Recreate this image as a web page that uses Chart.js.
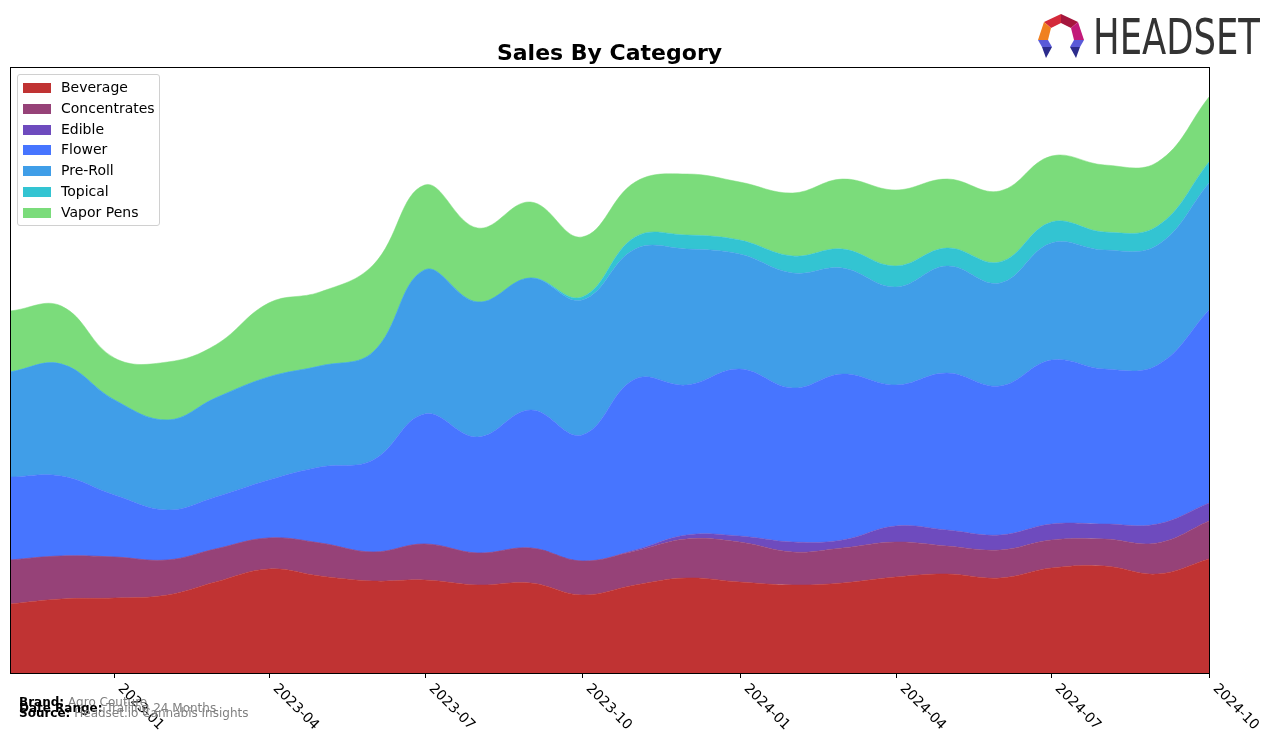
<!DOCTYPE html>
<html>
<head>
<meta charset="utf-8">
<script src="https://cdn.jsdelivr.net/npm/chart.js@4.4.1/dist/chart.umd.min.js"></script>
<style>
  body { margin: 0; background: #fff; font-family: "DejaVu Sans", sans-serif; }
  #wrap { position: relative; width: 1276px; height: 743px; overflow: hidden; }
  #chart { position: absolute; left: 0; top: 0; }
  .title { position: absolute; left: 10px; width: 1199px; top: 40px; text-align: center; font-weight: bold; font-size: 22px; line-height: 26px; color: #000; }
  .legend { position: absolute; left: 17px; top: 74px; width: 141px; height: 150px; border: 1px solid #d0d0d0; border-radius: 3px; background: rgba(255,255,255,0.85); }
  .legend .row { position: absolute; left: 0; height: 20px; font-size: 14px; color: #000; }
  .legend .sw { position: absolute; left: 5px; top: 5px; width: 28px; height: 10px; }
  .legend .lb { position: absolute; left: 43px; top: 1px; white-space: nowrap; }
  .foot { position: absolute; left: 19px; font-size: 12px; white-space: nowrap; color: #808080; }
  .foot b { color: #000; }
</style>
</head>
<body>
<div id="wrap">
  <canvas id="chart" width="1276" height="743"></canvas>
  <div class="title">Sales By Category</div>
  <div class="legend" id="legend"></div>
  <div class="foot" style="top:695px"><b>Brand:</b> Agro Couture</div>
  <div class="foot" style="top:701px"><b>Date Range:</b> Trailing 24 Months</div>
  <div class="foot" style="top:706px"><b>Source:</b> Headset.io Cannabis Insights</div>
  <svg style="position:absolute;left:1038px;top:14px" width="230" height="46" viewBox="0 0 230 46">
    <polygon points="6,8 23,0 23,9 13,14" fill="#d42a3a"/>
    <polygon points="23,0 40,8 33,14 23,9" fill="#a5163d"/>
    <polygon points="40,8 46,26 36,26 33,14" fill="#c21a7a"/>
    <polygon points="6,8 13,14 10,26 0,26" fill="#f08020"/>
    <polygon points="0,26 10,26 14,33 4,33" fill="#5a5ad8"/>
    <polygon points="4,33 14,33 8,44" fill="#2c2c8c"/>
    <polygon points="46,26 36,26 32,33 42,33" fill="#5a5ad8"/>
    <polygon points="42,33 32,33 38,44" fill="#2c2c8c"/>
    <text x="55" y="40" font-family="DejaVu Sans" font-size="49" fill="#333" textLength="167" lengthAdjust="spacingAndGlyphs">HEADSET</text>
  </svg>
</div>
<script>
// ---- data (heights, arbitrary units) ----
const months = ['2022-11','2022-12','2023-01','2023-02','2023-03','2023-04','2023-05','2023-06',
                '2023-07','2023-08','2023-09','2023-10','2023-11','2023-12','2024-01','2024-02',
                '2024-03','2024-04','2024-05','2024-06','2024-07','2024-08','2024-09','2024-10'];
const tickMonths = ['2023-01','2023-04','2023-07','2023-10','2024-01','2024-04','2024-07','2024-10'];

const beverage     = [69, 74, 75, 78, 91, 104, 97, 92, 93, 88, 90, 78, 88, 95, 91, 88, 90, 96, 99, 95, 105, 107, 99, 114];
const concentrates = [44, 43, 41, 35, 33, 31, 33, 29, 36, 32, 35, 34, 34, 39, 40, 33, 35, 35, 28, 28, 28, 27, 31, 38];
const edible       = [0, 0, 0, 0, 0, 0, 0, 0, 0, 0, 0, 0, 1, 4, 6, 10, 8, 16, 16, 15, 16, 15, 19, 18];
const flower       = [83, 80, 62, 50, 52, 58, 76, 92, 130, 116, 138, 126, 171, 150, 167, 154, 166, 141, 157, 149, 164, 155, 159, 193];
const preRoll      = [105, 112, 95, 90, 99, 103, 101, 108, 144, 135, 132, 135, 130, 136, 115, 115, 106, 98, 107, 103, 117, 119, 120, 127];
const topical      = [0, 0, 0, 0, 0, 0, 0, 0, 0, 0, 0, 3, 12, 14, 14, 17, 19, 21, 18, 21, 21, 18, 19, 21];
const vaporPens    = [61, 58, 42, 58, 53, 74, 74, 87, 85, 74, 76, 60, 55, 61, 58, 63, 70, 76, 69, 71, 66, 67, 64, 65];

const seriesNames  = ['Beverage', 'Concentrates', 'Edible', 'Flower', 'Pre-Roll', 'Topical', 'Vapor Pens'];
const seriesValues = [beverage, concentrates, edible, flower, preRoll, topical, vaporPens];
const seriesColors = ['#c03333', '#964278', '#6e4bbe', '#4775ff', '#409ee8', '#33c4d2', '#7bdc7b'];

// dias desde a época, pra manter o espaçamento real entre meses
function dayOf(m) {
    const [y, mo] = m.split('-').map(Number);
    return Date.UTC(y, mo - 1, 1) / 864e5;
}
const xs = months.map(dayOf);

const datasets = seriesNames.map((name, i) => ({
    label: name,
    data: seriesValues[i].map((v, j) => ({ x: xs[j], y: v })),
    backgroundColor: seriesColors[i],
    borderColor: seriesColors[i],
    borderWidth: 0.5,
    fill: i === 0 ? 'origin' : '-1',
    pointRadius: 0,
    tension: 0.4
}));

// ---- legend (html) ----
const legend = document.getElementById('legend');
seriesNames.forEach((name, i) => {
    const row = document.createElement('div');
    row.className = 'row';
    row.style.top = (3 + i * 20.8) + 'px';
    row.innerHTML = `<span class="sw" style="background:${seriesColors[i]}"></span><span class="lb">${name}</span>`;
    legend.appendChild(row);
});

// ---- frame + rotated ticks ----
const framePlugin = {
    id: 'frame',
    afterDraw(chart) {
        const { ctx, chartArea: a, scales } = chart;
        ctx.save();
        ctx.strokeStyle = '#000';
        ctx.lineWidth = 1;
        ctx.strokeRect(a.left + 0.5, a.top + 0.5, a.right - a.left, a.bottom - a.top);
        ctx.font = '14px "DejaVu Sans"';
        ctx.fillStyle = '#000';
        tickMonths.forEach(m => {
            const px = Math.round(scales.x.getPixelForValue(dayOf(m))) + 0.5;
            ctx.beginPath();
            ctx.moveTo(px, a.bottom);
            ctx.lineTo(px, a.bottom + 5);
            ctx.stroke();
            ctx.save();
            ctx.translate(px + 3, a.bottom + 16);
            ctx.rotate(Math.PI / 4);
            ctx.textAlign = 'left';
            ctx.textBaseline = 'alphabetic';
            ctx.fillText(m, 0, 0);
            ctx.restore();
        });
        ctx.restore();
    }
};

new Chart(document.getElementById('chart'), {
    type: 'line',
    data: { datasets },
    options: {
        responsive: false,
        animation: false,
        devicePixelRatio: 1,
        layout: { padding: { left: 10, top: 67, right: 67, bottom: 70 } },
        scales: {
            x: { type: 'linear', min: xs[0], max: xs[xs.length - 1], display: false },
            y: { stacked: true, min: 0, max: 606, display: false }
        },
        plugins: {
            legend: { display: false },
            title: { display: false },
            tooltip: { enabled: false }
        }
    },
    plugins: [framePlugin]
});
</script>
</body>
</html>
